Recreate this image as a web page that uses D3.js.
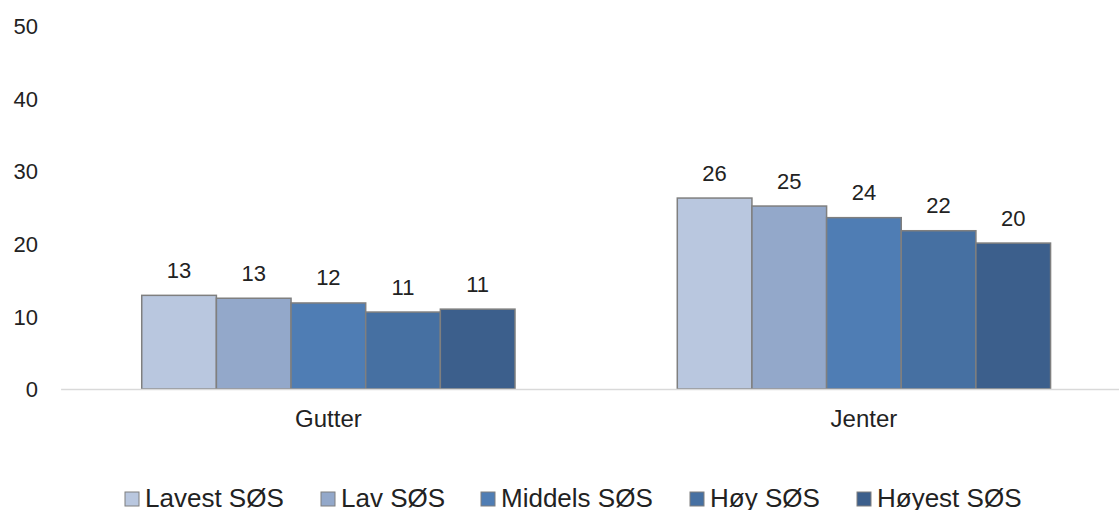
<!DOCTYPE html>
<html><head><meta charset="utf-8">
<script src="https://cdn.jsdelivr.net/npm/d3@7"></script>
<style>body{margin:0;background:#fff;}svg{display:block;font-family:"Liberation Sans",Arial,sans-serif;}</style>
</head><body>
<svg id="chart" width="1119" height="510"></svg>
<script>
const categories = ["Gutter", "Jenter"];
const seriesNames = ["Lavest SØS", "Lav SØS", "Middels SØS", "Høy SØS", "Høyest SØS"];
const lavest = [12.9, 26.3];
const lav = [12.5, 25.2];
const middels = [11.85, 23.6];
const hoy = [10.6, 21.8];
const hoyest = [11.0, 20.1];
const yTicks = [0, 10, 20, 30, 40, 50];
const colors = ["#b9c7df", "#93a8ca", "#4f7db4", "#4670a2", "#3c5f8c"];

const seriesValues = [lavest, lav, middels, hoy, hoyest];
const svg = d3.select("#chart");
const y = d3.scaleLinear().domain([0, 50]).range([389, 26]);
const x0 = d3.scaleBand().domain(categories).range([60.6, 1131.7]).paddingInner(0.303).paddingOuter(0.1515);
const x1 = d3.scaleBand().domain(seriesNames).range([0, x0.bandwidth()]);

// y axis labels
const yAxis = d3.axisLeft(y).tickValues(yTicks).tickSize(0).tickPadding(0);
const gy = svg.append("g").attr("transform", "translate(38,0)").call(yAxis);
gy.select(".domain").remove();
gy.selectAll("text").attr("font-size", 22).attr("fill", "#222").attr("font-family", "Liberation Sans, Arial, sans-serif").attr("dy", "0.35em");

// bars
const groups = svg.append("g").selectAll("g").data(categories).join("g")
  .attr("transform", d => `translate(${x0(d)},0)`);
seriesNames.forEach((s, si) => {
  groups.append("rect")
    .attr("x", (d, ci) => x1(s))
    .attr("y", (d, ci) => y(seriesValues[si][ci]))
    .attr("width", x1.bandwidth())
    .attr("height", (d, ci) => y(0) - y(seriesValues[si][ci]))
    .attr("fill", colors[si])
    .attr("stroke", "#7f7f7f")
    .attr("stroke-width", 1.5);
  groups.append("text")
    .attr("x", (d, ci) => x1(s) + x1.bandwidth() / 2)
    .attr("y", (d, ci) => y(seriesValues[si][ci]) - 17.5)
    .attr("text-anchor", "middle")
    .attr("font-size", 22).attr("fill", "#222")
    .text((d, ci) => Math.round(seriesValues[si][ci]));
});

// x axis
const xAxis = d3.axisBottom(x0).tickSize(0).tickPadding(0);
const gx = svg.append("g").attr("transform", `translate(0,${y(0)})`).call(xAxis);
gx.select(".domain").attr("stroke", "#d9d9d9").attr("stroke-width", 1.5);
gx.selectAll("text").attr("font-size", 24).attr("fill", "#222").attr("font-family", "Liberation Sans, Arial, sans-serif")
  .attr("dy", null).attr("y", 38);

// legend
const legendX = [125, 321, 481, 690, 857];
const lg = svg.append("g");
seriesNames.forEach((s, i) => {
  lg.append("rect").attr("x", legendX[i]).attr("y", 492).attr("width", 14).attr("height", 14)
    .attr("fill", colors[i]).attr("stroke", "#7f7f7f").attr("stroke-width", 1);
  lg.append("text").attr("x", legendX[i] + 20).attr("y", 507)
    .attr("font-size", 26).attr("fill", "#222").text(s);
});
</script>
</body></html>
